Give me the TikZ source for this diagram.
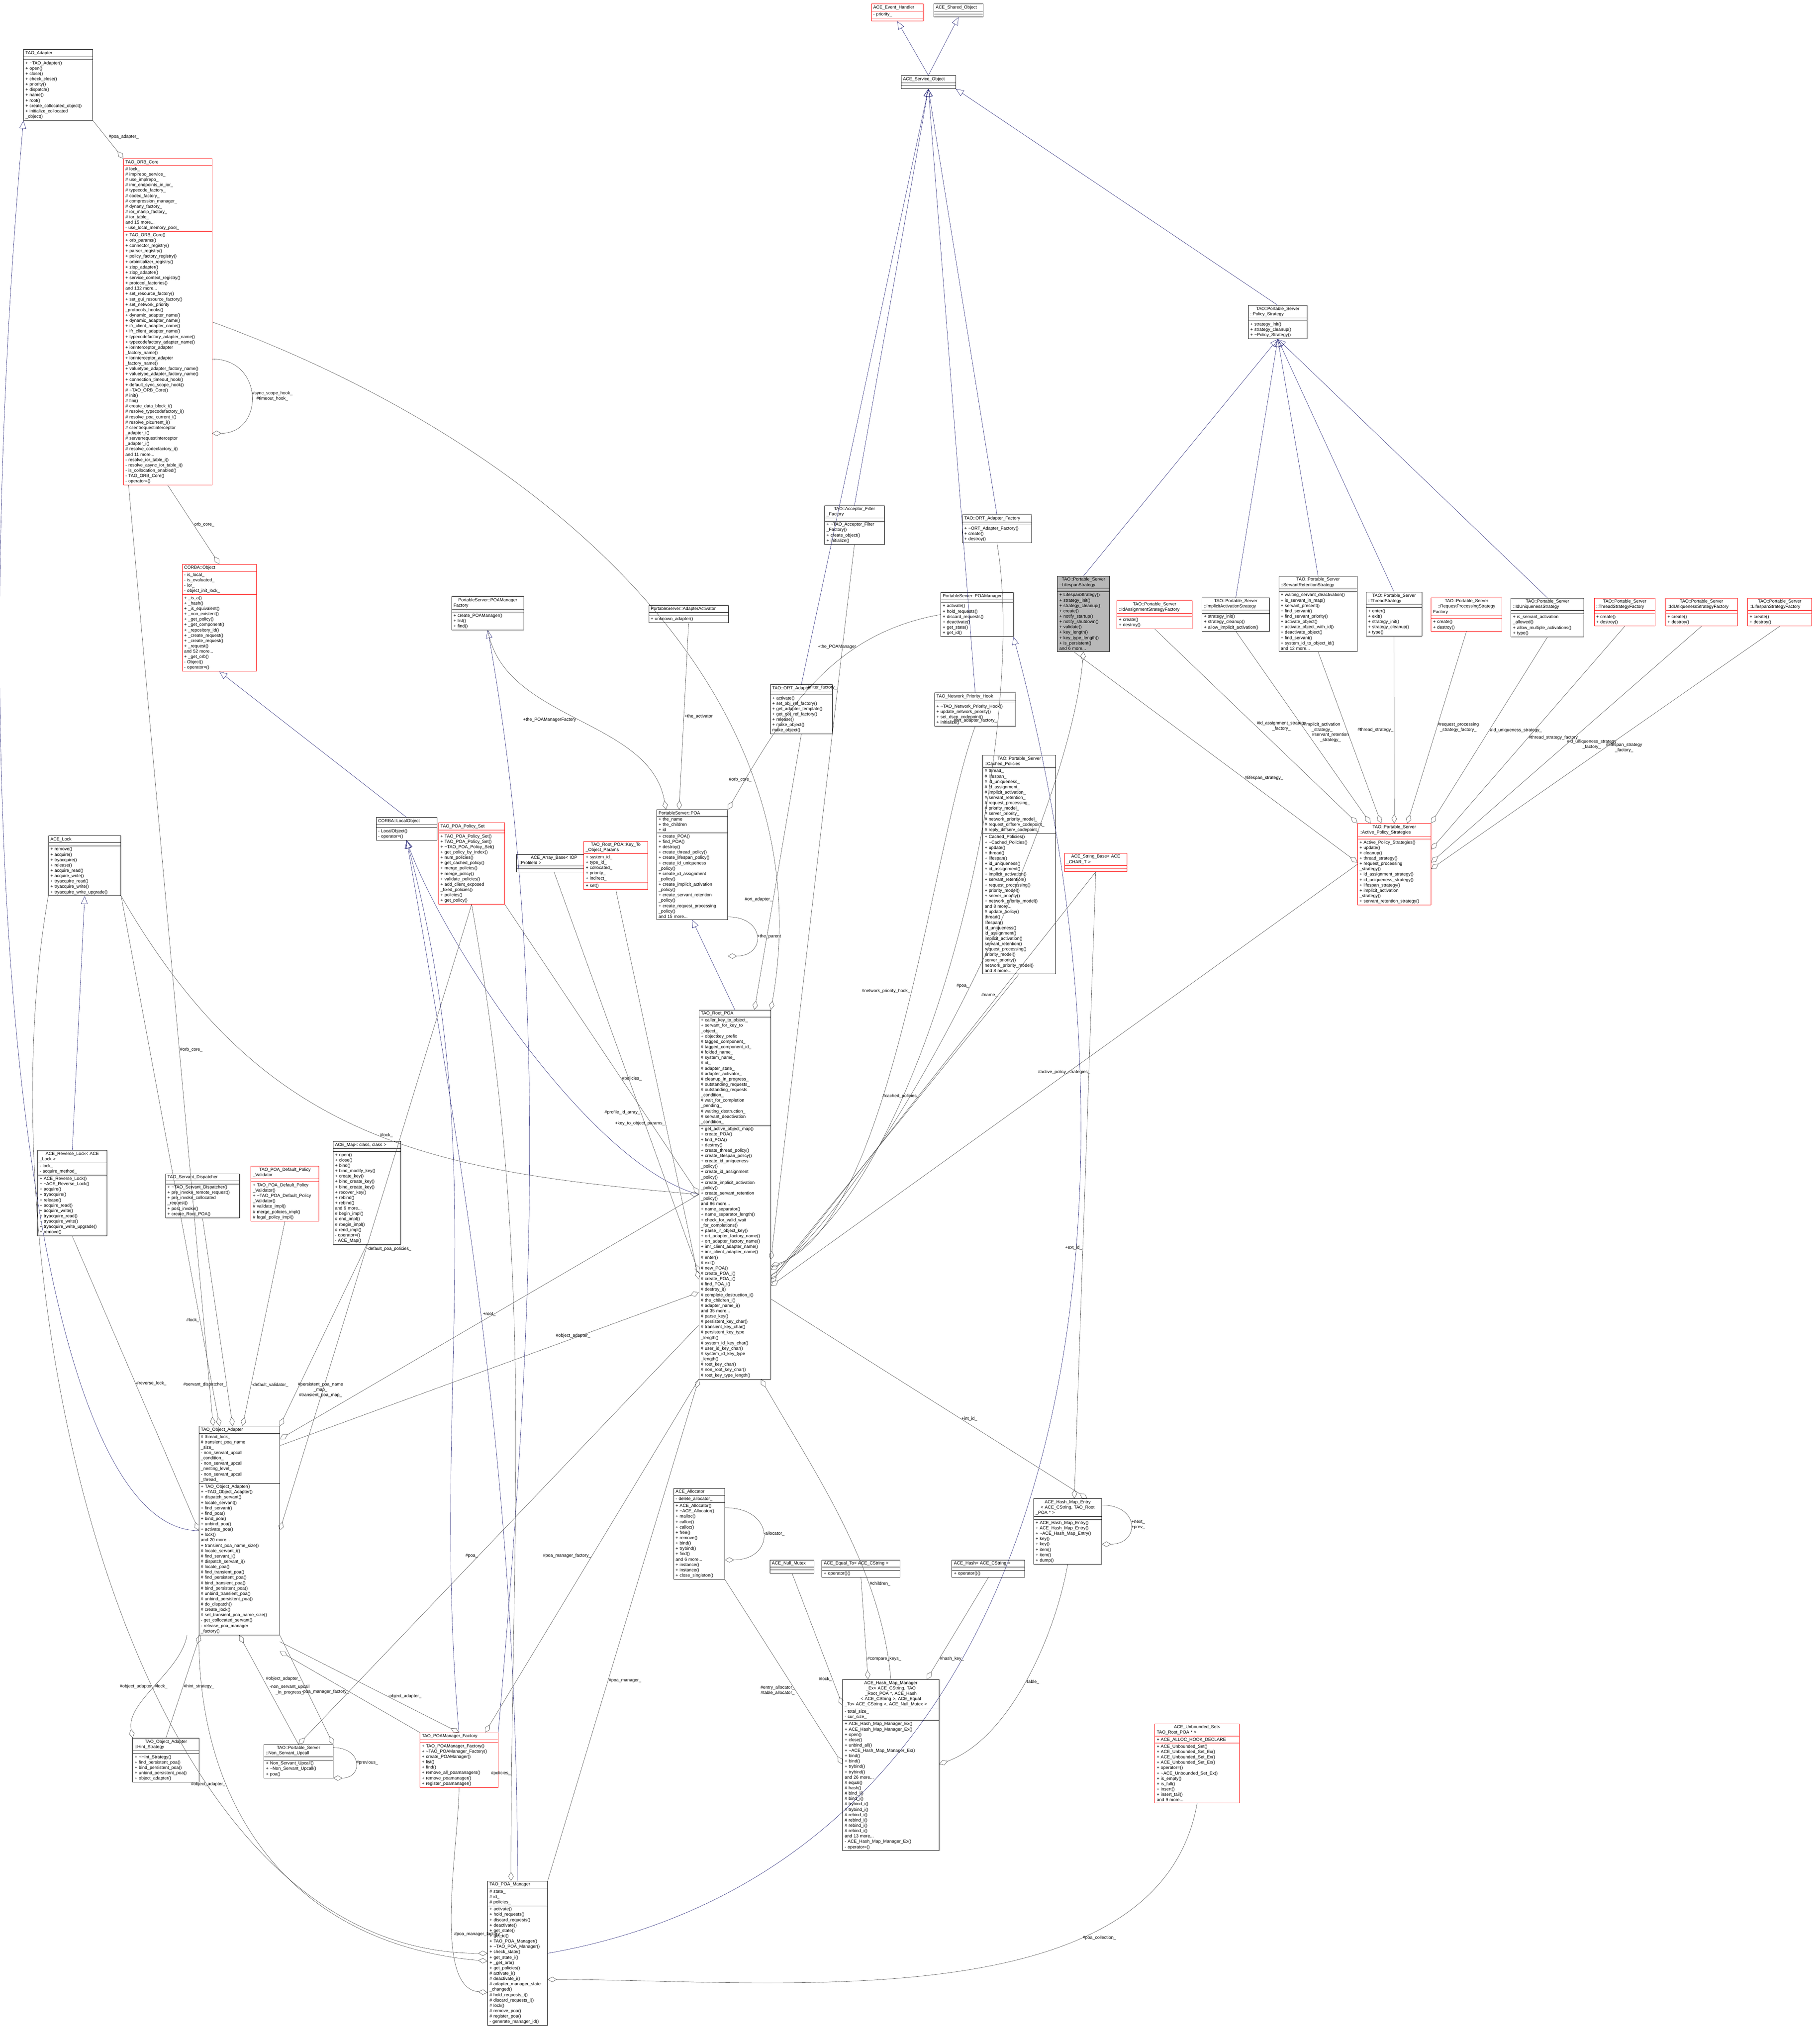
\documentclass[tikz,border=0pt]{standalone}
\usepackage{fontspec}
\setmainfont{Liberation Sans}
\usetikzlibrary{arrows.meta,shapes.multipart}

\definecolor{inhblue}{RGB}{25,25,112}
\definecolor{umlred}{RGB}{255,0,0}
\definecolor{usegray}{RGB}{64,64,64}

\newcommand{\dt}{\textasciitilde}
\newcommand{\umlfont}{\fontsize{6.8}{8.2}\selectfont}

% one class box: style, name, x, y, width (reference pixels), title, attributes, methods
\newcommand{\umlclass}[8][]{%
  \pgfmathsetlengthmacro\tw{#5*0.02cm-6pt}%
  \node[umlbox,#1,text width=\tw] (#2) at ({#3/50},{-#4/50})
    {\centering #6\nodepart{two}#7\nodepart{three}#8};}

\tikzset{
  umlbox/.style={rectangle split, rectangle split parts=3, draw=black, semithick,
    anchor=north west, align=left, inner xsep=3pt, inner ysep=2pt,
    rectangle split empty part height=9pt, font=\umlfont, fill=white},
  redbox/.style={draw=umlred},
  inh/.style={draw=inhblue, -{Triangle[open,length=12pt,width=10pt]}},
  use/.style={draw=usegray, -{Diamond[open,length=14pt,width=8pt]}},
  lbl/.style={font=\umlfont, align=center, inner sep=1pt}
}

\begin{document}
\catcode`\_=12
\begin{tikzpicture}
  \useasboundingbox (0,0) rectangle (97.98,-109.7);

  % base classes at the top
  \umlclass[redbox]{evh}{2345}{10}{140}{ACE_Event_Handler}{- priority_}{}
  \umlclass{shobj}{2513}{10}{133}{ACE_Shared_Object}{}{}
  \umlclass{svcobj}{2425}{203}{147}{ACE_Service_Object}{}{}
  \umlclass{polstrat}{3360}{822}{158}{TAO::Portable_Server\\::Policy_Strategy}{}%
    {+ strategy_init()\\+ strategy_cleanup()\\+ \dt Policy_Strategy()}
  \umlclass{accfilter}{2219}{1361}{161}{TAO::Acceptor_Filter\\_Factory}{}%
    {+ \dt TAO_Acceptor_Filter\\_Factory()\\+ create_object()\\+ initialize()}
  \umlclass{ortfactory}{2590}{1386}{186}{TAO::ORT_Adapter_Factory}{}%
    {+ \dt ORT_Adapter_Factory()\\+ create()\\+ destroy()}

  % left column
  \umlclass{adapter}{63}{133}{186}{TAO_Adapter}{}%
    {+ \dt TAO_Adapter()\\+ open()\\+ close()\\+ check_close()\\+ priority()\\+ dispatch()\\+ name()\\+ root()\\+ create_collocated_object()\\+ initialize_collocated\\_object()}
  \umlclass[redbox]{orbcore}{332}{427}{238}{TAO_ORB_Core}%
    {\# lock_\\\# implrepo_service_\\\# use_implrepo_\\\# imr_endpoints_in_ior_\\\# typecode_factory_\\\# codec_factory_\\\# compression_manager_\\\# dynany_factory_\\\# ior_manip_factory_\\\# ior_table_\\and 15 more...\\- use_local_memory_pool_}%
    {+ TAO_ORB_Core()\\+ orb_params()\\+ connector_registry()\\+ parser_registry()\\+ policy_factory_registry()\\+ orbinitializer_registry()\\+ ziop_adapter()\\+ ziop_adapter()\\+ service_context_registry()\\+ protocol_factories()\\and 132 more...\\+ set_resource_factory()\\+ set_gui_resource_factory()\\+ set_network_priority\\_protocols_hooks()\\+ dynamic_adapter_name()\\+ dynamic_adapter_name()\\+ ifr_client_adapter_name()\\+ ifr_client_adapter_name()\\+ typecodefactory_adapter_name()\\+ typecodefactory_adapter_name()\\+ iorinterceptor_adapter\\_factory_name()\\+ iorinterceptor_adapter\\_factory_name()\\+ valuetype_adapter_factory_name()\\+ valuetype_adapter_factory_name()\\+ connection_timeout_hook()\\+ default_sync_scope_hook()\\\# \dt TAO_ORB_Core()\\\# init()\\\# fini()\\\# create_data_block_i()\\\# resolve_typecodefactory_i()\\\# resolve_poa_current_i()\\\# resolve_picurrent_i()\\\# clientrequestinterceptor\\_adapter_i()\\\# serverrequestinterceptor\\_adapter_i()\\\# resolve_codecfactory_i()\\and 11 more...\\- resolve_ior_table_i()\\- resolve_async_ior_table_i()\\- is_collocation_enabled()\\- TAO_ORB_Core()\\- operator=()}
  \umlclass[redbox]{corbaobj}{490}{1519}{200}{CORBA::Object}%
    {- is_local_\\- is_evaluated_\\- ior_\\- object_init_lock_}%
    {+ _is_a()\\+ _hash()\\+ _is_equivalent()\\+ _non_existent()\\+ _get_policy()\\+ _get_component()\\+ _repository_id()\\+ _create_request()\\+ _create_request()\\+ _request()\\and 52 more...\\+ _get_orb()\\- Object()\\- operator=()}
  \umlclass{localobj}{1012}{2201}{164}{CORBA::LocalObject}{}{- LocalObject()\\- operator=()}
  \umlclass{acelock}{130}{2250}{195}{ACE_Lock}{}%
    {+ remove()\\+ acquire()\\+ tryacquire()\\+ release()\\+ acquire_read()\\+ acquire_write()\\+ tryacquire_read()\\+ tryacquire_write()\\+ tryacquire_write_upgrade()}
  \umlclass{revlock}{101}{3097}{186}{ACE_Reverse_Lock< ACE\\_Lock >}%
    {- lock_\\- acquire_method_}%
    {+ ACE_Reverse_Lock()\\+ \dt ACE_Reverse_Lock()\\+ acquire()\\+ tryacquire()\\+ release()\\+ acquire_read()\\+ acquire_write()\\+ tryacquire_read()\\+ tryacquire_write()\\+ tryacquire_write_upgrade()\\+ remove()}
  \umlclass{sdisp}{445}{3160}{199}{TAO_Servant_Dispatcher}{}%
    {+ \dt TAO_Servant_Dispatcher()\\+ pre_invoke_remote_request()\\+ pre_invoke_collocated\\_request()\\+ post_invoke()\\+ create_Root_POA()}
  \umlclass[redbox]{validator}{675}{3140}{183}{TAO_POA_Default_Policy\\_Validator}{}%
    {+ TAO_POA_Default_Policy\\_Validator()\\+ \dt TAO_POA_Default_Policy\\_Validator()\\\# validate_impl()\\\# merge_policies_impl()\\\# legal_policy_impl()}
  \umlclass{acemap}{896}{3073}{182}{ACE_Map< class, class >}{}%
    {+ open()\\+ close()\\+ bind()\\+ bind_modify_key()\\+ create_key()\\+ bind_create_key()\\+ bind_create_key()\\+ recover_key()\\+ rebind()\\+ rebind()\\and 9 more...\\\# begin_impl()\\\# end_impl()\\\# rbegin_impl()\\\# rend_impl()\\- operator=()\\- ACE_Map()}
  \umlclass{objadapter}{535}{3840}{217}{TAO_Object_Adapter}%
    {\# thread_lock_\\\# transient_poa_name\\_size_\\- non_servant_upcall\\_condition_\\- non_servant_upcall\\_nesting_level_\\- non_servant_upcall\\_thread_}%
    {+ TAO_Object_Adapter()\\+ \dt TAO_Object_Adapter()\\+ dispatch_servant()\\+ locate_servant()\\+ find_servant()\\+ find_poa()\\+ bind_poa()\\+ unbind_poa()\\+ activate_poa()\\+ lock()\\and 20 more...\\+ transient_poa_name_size()\\\# locate_servant_i()\\\# find_servant_i()\\\# dispatch_servant_i()\\\# locate_poa()\\\# find_transient_poa()\\\# find_persistent_poa()\\\# bind_transient_poa()\\\# bind_persistent_poa()\\\# unbind_transient_poa()\\\# unbind_persistent_poa()\\\# do_dispatch()\\\# create_lock()\\\# set_transient_poa_name_size()\\- get_collocated_servant()\\- release_poa_manager\\_factory()}
  \umlclass{hint}{357}{4680}{178}{TAO_Object_Adapter\\::Hint_Strategy}{}%
    {+ \dt Hint_Strategy()\\+ find_persistent_poa()\\+ bind_persistent_poa()\\+ unbind_persistent_poa()\\+ object_adapter()}
  \umlclass{nsupcall}{710}{4697}{186}{TAO::Portable_Server\\::Non_Servant_Upcall}{}%
    {+ Non_Servant_Upcall()\\+ \dt Non_Servant_Upcall()\\+ poa()}
  \umlclass[redbox]{pmfactory}{1130}{4665}{210}{TAO_POAManager_Factory}{}%
    {+ TAO_POAManager_Factory()\\+ \dt TAO_POAManager_Factory()\\+ create_POAManager()\\+ list()\\+ find()\\+ remove_all_poamanagers()\\+ remove_poamanager()\\+ register_poamanager()}
  \umlclass{poamanager}{1312}{5065}{161}{TAO_POA_Manager}%
    {\# state_\\\# id_\\\# policies_}%
    {+ activate()\\+ hold_requests()\\+ discard_requests()\\+ deactivate()\\+ get_state()\\+ get_id()\\+ TAO_POA_Manager()\\+ \dt TAO_POA_Manager()\\+ check_state()\\+ get_state_i()\\+ _get_orb()\\+ get_policies()\\\# activate_i()\\\# deactivate_i()\\\# adapter_manager_state\\_changed()\\\# hold_requests_i()\\\# discard_requests_i()\\\# lock()\\\# remove_poa()\\\# register_poa()\\- generate_manager_id()}

  % middle column
  \umlclass[redbox]{policyset}{1180}{2215}{178}{TAO_POA_Policy_Set}{}%
    {+ TAO_POA_Policy_Set()\\+ TAO_POA_Policy_Set()\\+ \dt TAO_POA_Policy_Set()\\+ get_policy_by_index()\\+ num_policies()\\+ get_cached_policy()\\+ merge_policies()\\+ merge_policy()\\+ validate_policies()\\+ add_client_exposed\\_fixed_policies()\\+ policies()\\+ get_policy()}
  \umlclass{arraybase}{1390}{2300}{202}{ACE_Array_Base< IOP\\::ProfileId >}{}{}
  \umlclass[redbox]{keyparams}{1571}{2265}{172}{TAO_Root_POA::Key_To\\_Object_Params}%
    {+ system_id_\\+ type_id_\\+ collocated_\\+ priority_\\+ indirect_}{+ set()}
  \umlclass{pmfactoryif}{1215}{1606}{195}{PortableServer::POAManager\\Factory}{}%
    {+ create_POAManager()\\+ list()\\+ find()}
  \umlclass{activator}{1746}{1630}{214}{PortableServer::AdapterActivator}{}{+ unknown_adapter()}
  \umlclass{poa}{1767}{2180}{191}{PortableServer::POA}%
    {+ the_name\\+ the_children\\+ id}%
    {+ create_POA()\\+ find_POA()\\+ destroy()\\+ create_thread_policy()\\+ create_lifespan_policy()\\+ create_id_uniqueness\\_policy()\\+ create_id_assignment\\_policy()\\+ create_implicit_activation\\_policy()\\+ create_servant_retention\\_policy()\\+ create_request_processing\\_policy()\\and 15 more...}
  \umlclass{ortadapter}{2073}{1843}{167}{TAO::ORT_Adapter}{}%
    {+ activate()\\+ set_obj_ref_factory()\\+ get_adapter_template()\\+ get_obj_ref_factory()\\+ release()\\+ make_object()\\* make_object()}
  \umlclass{poamgrif}{2532}{1595}{195}{PortableServer::POAManager}{}%
    {+ activate()\\+ hold_requests()\\+ discard_requests()\\+ deactivate()\\+ get_state()\\+ get_id()}
  \umlclass{nethook}{2515}{1865}{219}{TAO_Network_Priority_Hook}{}%
    {+ \dt TAO_Network_Priority_Hook()\\+ update_network_priority()\\+ set_dscp_codepoint()\\+ initialize()}
  \umlclass{rootpoa}{1881}{2719}{193}{TAO_Root_POA}%
    {+ caller_key_to_object_\\+ servant_for_key_to\\_object_\\+ objectkey_prefix\\\# tagged_component_\\\# tagged_component_id_\\\# folded_name_\\\# system_name_\\\# id_\\\# adapter_state_\\\# adapter_activator_\\\# cleanup_in_progress_\\\# outstanding_requests_\\\# outstanding_requests\\_condition_\\\# wait_for_completion\\_pending_\\\# waiting_destruction_\\\# servant_deactivation\\_condition_}%
    {+ get_active_object_map()\\+ create_POA()\\+ find_POA()\\+ destroy()\\+ create_thread_policy()\\+ create_lifespan_policy()\\+ create_id_uniqueness\\_policy()\\+ create_id_assignment\\_policy()\\+ create_implicit_activation\\_policy()\\+ create_servant_retention\\_policy()\\and 86 more...\\+ name_separator()\\+ name_separator_length()\\+ check_for_valid_wait\\_for_completions()\\+ parse_ir_object_key()\\+ ort_adapter_factory_name()\\+ ort_adapter_factory_name()\\+ imr_client_adapter_name()\\+ imr_client_adapter_name()\\\# enter()\\\# exit()\\\# new_POA()\\\# create_POA_i()\\\# create_POA_i()\\\# find_POA_i()\\\# destroy_i()\\\# complete_destruction_i()\\\# the_children_i()\\\# adapter_name_i()\\and 35 more...\\\# parse_key()\\\# persistent_key_char()\\\# transient_key_char()\\\# persistent_key_type\\_length()\\\# system_id_key_char()\\\# user_id_key_char()\\\# system_id_key_type\\_length()\\\# root_key_char()\\\# non_root_key_char()\\\# root_key_type_length()}
  \umlclass{cached}{2645}{2033}{196}{TAO::Portable_Server\\::Cached_Policies}%
    {\# thread_\\\# lifespan_\\\# id_uniqueness_\\\# id_assignment_\\\# implicit_activation_\\\# servant_retention_\\\# request_processing_\\\# priority_model_\\\# server_priority_\\\# network_priority_model_\\\# request_diffserv_codepoint_\\\# reply_diffserv_codepoint_}%
    {+ Cached_Policies()\\+ \dt Cached_Policies()\\+ update()\\+ thread()\\+ lifespan()\\+ id_uniqueness()\\+ id_assignment()\\+ implicit_activation()\\+ servant_retention()\\+ request_processing()\\+ priority_model()\\+ server_priority()\\+ network_priority_model()\\and 8 more...\\\# update_policy()\\* thread()\\* lifespan()\\* id_uniqueness()\\* id_assignment()\\* implicit_activation()\\* servant_retention()\\* request_processing()\\* priority_model()\\* server_priority()\\* network_priority_model()\\and 8 more...}
  \umlclass[redbox]{strbase}{2865}{2297}{168}{ACE_String_Base< ACE\\_CHAR_T >}{}{}

  % strategies on the right
  \umlclass[fill=black!28]{lifespan}{2846}{1551}{140}{TAO::Portable_Server\\::LifespanStrategy}{}%
    {+ LifespanStrategy()\\+ strategy_init()\\+ strategy_cleanup()\\+ create()\\+ notify_startup()\\+ notify_shutdown()\\+ validate()\\+ key_length()\\+ key_type_length()\\+ is_persistent()\\and 6 more...}
  \umlclass[redbox]{idassignf}{3006}{1617}{203}{TAO::Portable_Server\\::IdAssignmentStrategyFactory}{}{+ create()\\+ destroy()}
  \umlclass{implicit}{3235}{1609}{182}{TAO::Portable_Server\\::ImplicitActivationStrategy}{}%
    {+ strategy_init()\\+ strategy_cleanup()\\+ allow_implicit_activation()}
  \umlclass{servret}{3442}{1551}{211}{TAO::Portable_Server\\::ServantRetentionStrategy}{}%
    {+ waiting_servant_deactivation()\\+ is_servant_in_map()\\+ servant_present()\\+ find_servant()\\+ find_servant_priority()\\+ activate_object()\\+ activate_object_with_id()\\+ deactivate_object()\\+ find_servant()\\+ system_id_to_object_id()\\and 12 more...}
  \umlclass{thread}{3677}{1594}{150}{TAO::Portable_Server\\::ThreadStrategy}{}%
    {+ enter()\\+ exit()\\+ strategy_init()\\+ strategy_cleanup()\\+ type()}
  \umlclass[redbox]{reqprocf}{3852}{1609}{190}{TAO::Portable_Server\\::RequestProcessingStrategy\\Factory}{}{+ create()\\+ destroy()}
  \umlclass{iduniq}{4067}{1610}{196}{TAO::Portable_Server\\::IdUniquenessStrategy}{}%
    {+ is_servant_activation\\_allowed()\\+ allow_multiple_activations()\\+ type()}
  \umlclass[redbox]{threadf}{4291}{1610}{164}{TAO::Portable_Server\\::ThreadStrategyFactory}{}{+ create()\\+ destroy()}
  \umlclass[redbox]{iduniqf}{4483}{1610}{193}{TAO::Portable_Server\\::IdUniquenessStrategyFactory}{}{+ create()\\+ destroy()}
  \umlclass[redbox]{lifespanf}{4704}{1610}{172}{TAO::Portable_Server\\::LifespanStrategyFactory}{}{+ create()\\+ destroy()}
  \umlclass[redbox]{aps}{3654}{2217}{197}{TAO::Portable_Server\\::Active_Policy_Strategies}{}%
    {+ Active_Policy_Strategies()\\+ update()\\+ cleanup()\\+ thread_strategy()\\+ request_processing\\_strategy()\\+ id_assignment_strategy()\\+ id_uniqueness_strategy()\\+ lifespan_strategy()\\+ implicit_activation\\_strategy()\\+ servant_retention_strategy()}

  % hash map at the bottom
  \umlclass{allocator}{1813}{4007}{137}{ACE_Allocator}{- delete_allocator_}%
    {+ ACE_Allocator()\\+ \dt ACE_Allocator()\\+ malloc()\\+ calloc()\\+ calloc()\\+ free()\\+ remove()\\+ bind()\\+ trybind()\\+ find()\\and 6 more...\\+ instance()\\+ instance()\\+ close_singleton()}
  \umlclass{nullmutex}{2072}{4200}{119}{ACE_Null_Mutex}{}{}
  \umlclass{equalto}{2212}{4200}{210}{ACE_Equal_To< ACE_CString >}{}{+ operator()()}
  \umlclass{acehash}{2562}{4200}{196}{ACE_Hash< ACE_CString >}{}{+ operator()()}
  \umlclass{hmentry}{2782}{4035}{183}{ACE_Hash_Map_Entry\\< ACE_CString, TAO_Root\\_POA * >}{}%
    {+ ACE_Hash_Map_Entry()\\+ ACE_Hash_Map_Entry()\\+ \dt ACE_Hash_Map_Entry()\\+ key()\\+ key()\\+ item()\\+ item()\\+ dump()}
  \umlclass{hmmanager}{2268}{4522}{259}{ACE_Hash_Map_Manager\\_Ex< ACE_CString, TAO\\_Root_POA *, ACE_Hash\\< ACE_CString >, ACE_Equal\\_To< ACE_CString >, ACE_Null_Mutex >}%
    {- total_size_\\- cur_size_}%
    {+ ACE_Hash_Map_Manager_Ex()\\+ ACE_Hash_Map_Manager_Ex()\\+ open()\\+ close()\\+ unbind_all()\\+ \dt ACE_Hash_Map_Manager_Ex()\\+ bind()\\+ bind()\\+ trybind()\\+ trybind()\\and 26 more...\\\# equal()\\\# hash()\\\# bind_i()\\\# bind_i()\\\# trybind_i()\\\# trybind_i()\\\# rebind_i()\\\# rebind_i()\\\# rebind_i()\\\# rebind_i()\\and 13 more...\\- ACE_Hash_Map_Manager_Ex()\\- operator=()}
  \umlclass[redbox]{unbset}{3108}{4641}{228}{ACE_Unbounded_Set<\\TAO_Root_POA * >}%
    {+ ACE_ALLOC_HOOK_DECLARE}%
    {+ ACE_Unbounded_Set()\\+ ACE_Unbounded_Set_Ex()\\+ ACE_Unbounded_Set_Ex()\\+ ACE_Unbounded_Set_Ex()\\+ operator=()\\+ \dt ACE_Unbounded_Set_Ex()\\+ is_empty()\\+ is_full()\\+ insert()\\+ insert_tail()\\and 9 more...}

  % inheritance
  \draw [inh] (svcobj.north) -- (evh.south);
  \draw [inh] (svcobj.north) -- (shobj.south);
  \foreach \c in {accfilter,ortfactory,ortadapter,nethook}
    \draw [inh] (\c.north) -- (svcobj.south);
  \draw [inh] (polstrat.north) -- (svcobj.south east);
  \foreach \c in {lifespan,implicit,servret,thread,iduniq}
    \draw [inh] (\c.north) -- (polstrat.south);
  \draw [inh] (rootpoa.north) -- (poa.south);
  \draw [inh] (localobj.north) -- (corbaobj.south);
  \draw [inh] (revlock.north) -- (acelock.south);
  \draw [inh] (objadapter.west) .. controls +(180:9) and +(-95:40) .. (adapter.south west);
  \draw [inh] (rootpoa.west) .. controls +(165:6) and +(-70:6) .. (localobj.south);
  \draw [inh] (pmfactory.north) .. controls +(95:18) and +(-75:18) .. (localobj.south);
  \draw [inh] (poamanager.north) .. controls +(90:20) and +(-80:20) .. (localobj.south);
  \draw [inh] (pmfactory.north east) .. controls +(85:20) and +(-80:20) .. (pmfactoryif.south);
  \draw [inh] (poamanager.east) .. controls +(10:30) and +(-75:30) .. (poamgrif.south east);

  % ORB core and adapter usage
  \draw [use] (adapter.south east) -- node[lbl,above right]{\#poa_adapter_} (orbcore.north west);
  \draw [use] ([yshift=-2cm]orbcore.east) to[out=0,in=0,looseness=1.8]
    node[lbl,right]{\#sync_scope_hook_\\\#timeout_hook_} ([yshift=-6cm]orbcore.east);
  \draw [use] (orbcore.south) -- node[lbl,right]{orb_core_} (corbaobj.north);
  \draw [use] ([xshift=8pt]orbcore.south west) -- node[lbl,right,pos=0.6]{\#orb_core_} ([xshift=-40pt]objadapter.north);
  \draw [use] (orbcore.east) .. controls +(-20:18) and +(80:18) .. node[lbl,pos=0.75,left]{\#orb_core_} (rootpoa.north east);

  % lock and object adapter helpers
  \draw [use] (acelock.south east) -- node[lbl,pos=0.8,left]{\#lock_} ([xshift=-30pt]objadapter.north);
  \draw [use] (acelock.south east) .. controls +(-60:15) and +(175:15) .. node[lbl,pos=0.55,above]{\#lock_} (rootpoa.west);
  \draw [use] (acelock.south west) .. controls +(-100:20) and +(180:20) .. node[lbl,pos=0.6,right]{\#lock_} (poamanager.west);
  \draw [use] (revlock.south) -- node[lbl,right]{\#reverse_lock_} (objadapter.west);
  \draw [use] (sdisp.south) -- node[lbl,pos=0.8,left]{\#servant_dispatcher_} ([xshift=-10pt]objadapter.north);
  \draw [use] (validator.south) -- node[lbl,pos=0.8,right]{-default_validator_} ([xshift=5pt]objadapter.north);
  \draw [use] (acemap.south) -- node[lbl,pos=0.8,right]{\#persistent_poa_name\\_map_\\\#transient_poa_map_} (objadapter.north east);
  \draw [use] (policyset.south) -- node[lbl,pos=0.55,right]{-default_poa_policies_} (objadapter.east);
  \draw [use] (policyset.south east) -- node[lbl,pos=0.6,right]{\#policies_} (rootpoa.west);
  \draw [use] (policyset.south) .. controls +(-80:20) and +(90:20) .. node[lbl,pos=0.9,left]{\#policies_} ([xshift=-10pt]poamanager.north);
  \draw [use] (rootpoa.west) -- node[lbl,pos=0.5,above]{+root_} ([yshift=-20pt]objadapter.north east);
  \draw [use] ([yshift=-30pt]objadapter.north east) -- node[lbl,pos=0.7,above]{\#object_adapter_} ([yshift=-150pt]rootpoa.west);
  \draw [use] (hint.north) -- node[lbl,right]{\#hint_strategy_} ([xshift=-60pt]objadapter.south);
  \draw [use] ([xshift=-80pt]objadapter.south) .. controls +(-100:2) and +(100:2) .. node[lbl,left]{\#object_adapter_} (hint.north west);
  \draw [use] (nsupcall.north) -- node[lbl,right]{-non_servant_upcall\\_in_progress_} (objadapter.south);
  \draw [use] (objadapter.south east) -- node[lbl,pos=0.4,left]{\#object_adapter_} (nsupcall.north east);
  \draw [use] ([yshift=-5pt]nsupcall.north east) to[out=0,in=0,looseness=2.5] node[lbl,right]{\#previous_} (nsupcall.south east);
  \draw [use] (pmfactory.north west) -- node[lbl,pos=0.5,left]{-poa_manager_factory_} ([yshift=-25pt]objadapter.south east);
  \draw [use] ([yshift=-10pt]objadapter.south east) -- node[lbl,pos=0.6,right]{-object_adapter_} (pmfactory.north);
  \draw [use] (objadapter.south west) .. controls +(-90:10) and +(175:10) .. node[lbl,pos=0.3,left]{\#object_adapter_} ([yshift=-12pt]poamanager.west);
  \draw [use] (rootpoa.south west) -- node[lbl,pos=0.5,left]{\#poa_manager_factory_} ([xshift=40pt]pmfactory.north);
  \draw [use] (pmfactory.south) .. controls +(-90:3) and +(175:3) .. node[lbl,pos=0.6,right]{\#poa_manager_factory_} ([yshift=-60pt]poamanager.west);
  \draw [use] (poamanager.north east) -- node[lbl,pos=0.4,right]{\#poa_manager_} (rootpoa.south west);
  \draw [use] ([yshift=-200pt]rootpoa.west) -- node[lbl,pos=0.55,left]{\#poa_} (nsupcall.north);
  \draw [use] (unbset.south) .. controls +(-100:12) and +(0:12) .. node[lbl,pos=0.3,right]{\#poa_collection_} ([yshift=-40pt]poamanager.east);

  % Root POA members
  \draw [use] (arraybase.south) -- node[lbl,pos=0.6,left]{\#profile_id_array_} ([yshift=-120pt]rootpoa.west);
  \draw [use] (keyparams.south) -- node[lbl,pos=0.6,left]{+key_to_object_params_} ([yshift=-130pt]rootpoa.west);
  \draw [use] (pmfactoryif.south) .. controls +(-80:5) and +(100:5) .. node[lbl,pos=0.5,left]{+the_POAManagerFactory} ([xshift=-40pt]poa.north);
  \draw [use] (activator.south) -- node[lbl,pos=0.5,right]{+the_activator} ([xshift=-20pt]poa.north);
  \draw [use] ([yshift=-80pt]poa.east) to[out=0,in=0,looseness=2.5] node[lbl,right]{+the_parent} ([yshift=-140pt]poa.east);
  \draw [use] (poamgrif.west) .. controls +(-170:6) and +(60:6) .. node[lbl,pos=0.3,left]{+the_POAManager} (poa.north east);
  \draw [use] (ortadapter.south) -- node[lbl,pos=0.6,left]{\#ort_adapter_} ([xshift=30pt]rootpoa.north);
  \draw [use] (accfilter.south) -- node[lbl,pos=0.2,left]{\#filter_factory_} ([yshift=-100pt]rootpoa.east);
  \draw [use] (nethook.south) .. controls +(-110:7) and +(20:7) .. node[lbl,pos=0.45,left]{\#network_priority_hook_} ([yshift=-110pt]rootpoa.east);
  \draw [use] (ortfactory.south) .. controls +(-80:10) and +(30:10) .. node[lbl,pos=0.25,left]{\#ort_adapter_factory_} ([yshift=-115pt]rootpoa.east);
  \draw [use] ([yshift=-125pt]rootpoa.east) .. controls +(40:9) and +(-95:9) .. node[lbl,pos=0.5,left]{\#poa_} (lifespan.south);
  \draw [use] (cached.south) -- node[lbl,pos=0.4,left]{\#cached_policies_} ([yshift=-130pt]rootpoa.east);
  \draw [use] (strbase.south) -- node[lbl,pos=0.3,left]{\#name_} ([yshift=-135pt]rootpoa.east);
  \draw [use] (aps.west) -- node[lbl,pos=0.5,above]{\#active_policy_strategies_} ([yshift=-140pt]rootpoa.east);
  \draw [use] (strbase.south) -- node[lbl,pos=0.6,left]{+ext_id_} ([xshift=10pt]hmentry.north);
  \draw [use] ([yshift=-160pt]rootpoa.east) -- node[lbl,pos=0.6,right]{+int_id_} ([xshift=30pt]hmentry.north);
  \draw [use] (hmmanager.north) .. controls +(95:6) and +(-60:6) .. node[lbl,pos=0.3,right]{\#children_} ([xshift=40pt]rootpoa.south);

  % strategies used by Active_Policy_Strategies
  \draw [use] ([xshift=-15pt]lifespan.south) -- node[lbl,pos=0.6,right]{\#lifespan_strategy_} ([yshift=-60pt]aps.north west);
  \draw [use] (idassignf.south) -- node[lbl,pos=0.5,right]{\#id_assignment_strategy\\_factory_} (aps.north west);
  \draw [use] (implicit.south) -- node[lbl,pos=0.5,right]{-implicit_activation\\_strategy_} ([xshift=20pt]aps.north west);
  \draw [use] (servret.south) -- node[lbl,pos=0.5,left]{\#servant_retention\\_strategy_} ([xshift=-20pt]aps.north);
  \draw [use] (thread.south) -- node[lbl,pos=0.5,left]{\#thread_strategy_} (aps.north);
  \draw [use] (reqprocf.south) -- node[lbl,pos=0.5,right]{\#request_processing\\_strategy_factory_} ([xshift=20pt]aps.north);
  \draw [use] (iduniq.south) -- node[lbl,pos=0.5,right]{\#id_uniqueness_strategy_} (aps.north east);
  \draw [use] (threadf.south) -- node[lbl,pos=0.5,right]{\#thread_strategy_factory_} ([yshift=-40pt]aps.north east);
  \draw [use] (iduniqf.south) -- node[lbl,pos=0.5,right]{\#id_uniqueness_strategy\\_factory_} ([yshift=-60pt]aps.north east);
  \draw [use] (lifespanf.south) -- node[lbl,pos=0.5,right]{\#lifespan_strategy\\_factory_} ([yshift=-70pt]aps.north east);

  % hash map parts
  \draw [use] ([yshift=-10pt]hmentry.north east) to[out=0,in=0,looseness=2.5] node[lbl,right]{+next_\\+prev_} ([yshift=-70pt]hmentry.north east);
  \draw [use] (hmentry.south) .. controls +(-100:4) and +(20:4) .. node[lbl,pos=0.5,right]{-table_} ([yshift=-130pt]hmmanager.north east);
  \draw [use] ([yshift=-30pt]allocator.north east) to[out=0,in=0,looseness=2.5] node[lbl,right]{-allocator_} ([yshift=-110pt]allocator.north east);
  \draw [use] (allocator.south east) -- node[lbl,pos=0.6,left]{\#entry_allocator_\\\#table_allocator_} ([yshift=-130pt]hmmanager.north west);
  \draw [use] (nullmutex.south) -- node[lbl,pos=0.8,left]{\#lock_} ([yshift=-40pt]hmmanager.north west);
  \draw [use] (equalto.south) -- node[lbl,pos=0.8,right]{\#compare_keys_} ([xshift=-35pt]hmmanager.north);
  \draw [use] (acehash.south) -- node[lbl,pos=0.8,right]{\#hash_key_} ([xshift=55pt]hmmanager.north);

\end{tikzpicture}
\end{document}
